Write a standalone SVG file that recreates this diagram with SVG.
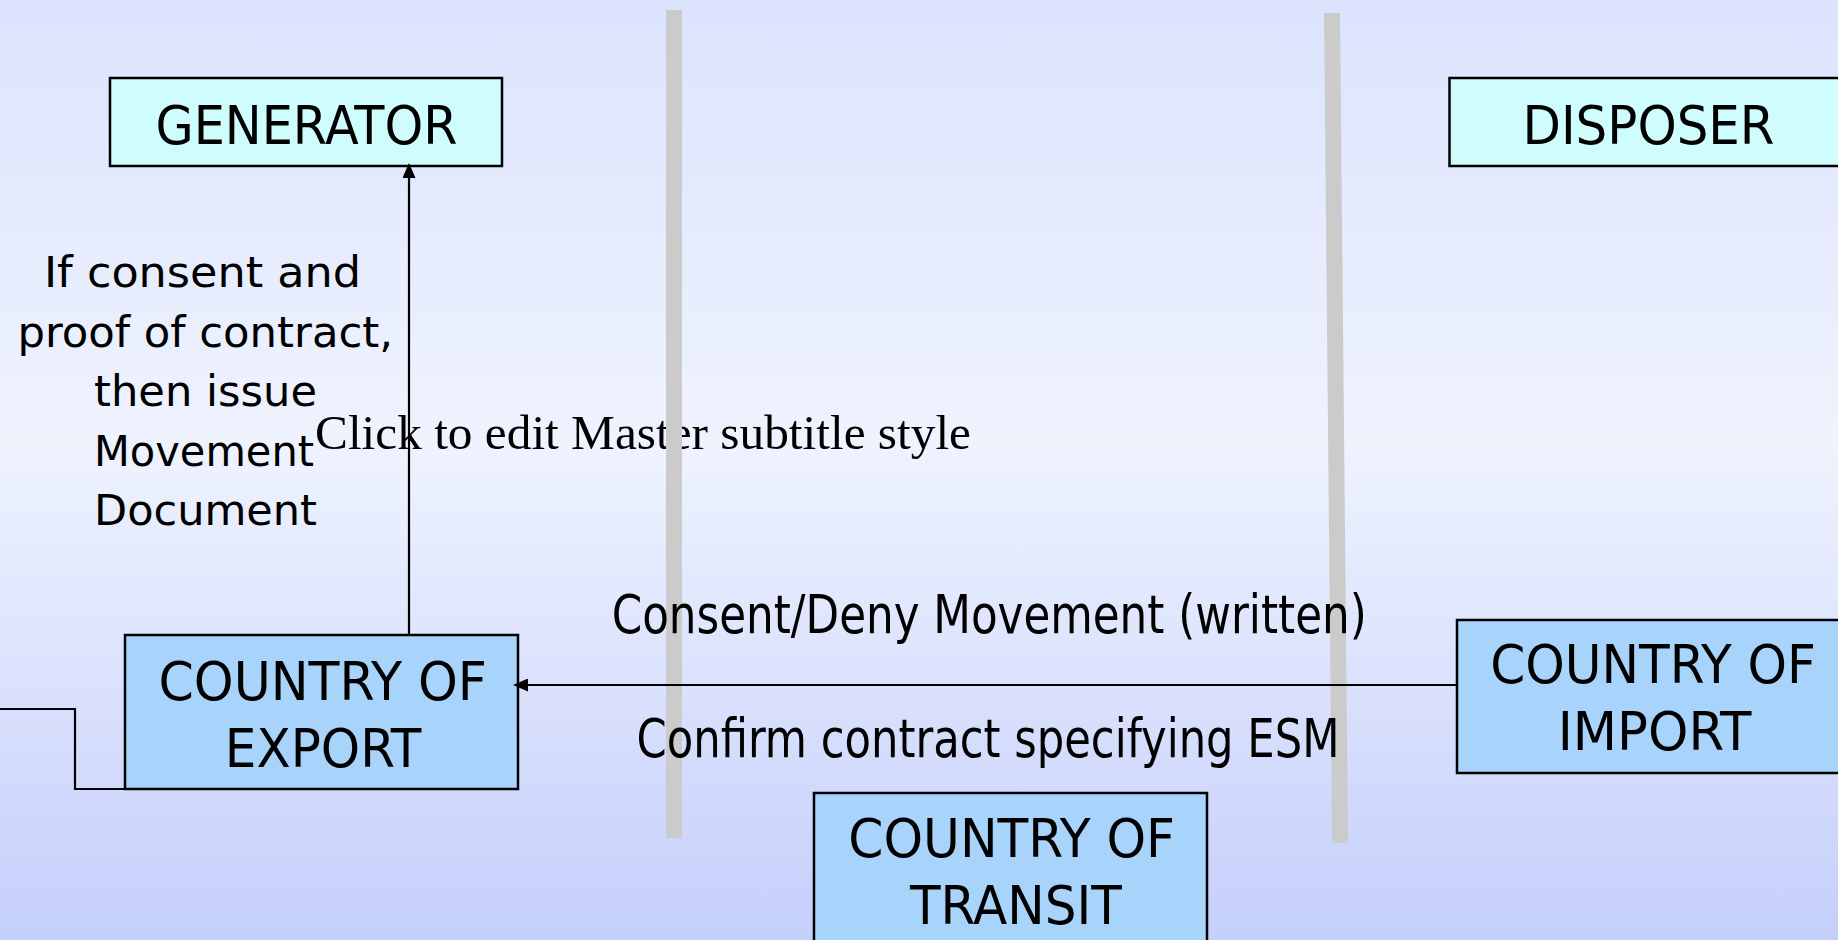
<svg xmlns="http://www.w3.org/2000/svg" width="1838" height="940" viewBox="0 0 1838 940">
  <defs>
    <linearGradient id="bg" x1="0" y1="0" x2="0" y2="1">
      <stop offset="0" stop-color="#dce3fd"/>
      <stop offset="0.47" stop-color="#eff3fe"/>
      <stop offset="1" stop-color="#c4cffb"/>
    </linearGradient>
    <marker id="arrow" viewBox="0 0 15 13" refX="1" refY="6.5" markerWidth="15" markerHeight="13" markerUnits="userSpaceOnUse" orient="auto">
      <path d="M15,6.5 L0,0 L0,13 Z" fill="#000"/>
    </marker>
  </defs>
  <style>
    .box { stroke: #000; stroke-width: 2.5; }
    .party { fill: #cffdfd; }
    .country { fill: #a8d4fc; }
    .lbl { font-family: "DejaVu Sans Condensed", "DejaVu Sans", sans-serif; font-size: 54px; fill: #000; }
    .note { font-family: "DejaVu Sans Condensed", "DejaVu Sans", sans-serif; font-size: 43px; fill: #000; }
    .ph { font-family: "Liberation Serif", "Times New Roman", serif; font-size: 49px; fill: #000; }
    .bar { fill: #cbcbcb; }
    .wire { fill: none; stroke: #000; stroke-width: 2.2; }
  </style>

  <rect width="1838" height="940" fill="url(#bg)"/>

  <!-- placeholder subtitle, sits beneath the border bars -->
  <text class="ph" x="315" y="449" textLength="656" lengthAdjust="spacingAndGlyphs">Click to edit Master subtitle style</text>

  <!-- national border bars -->
  <g id="borders">
    <rect class="bar" x="666" y="10" width="16" height="828"/>
    <polygon class="bar" points="1324,13 1340,13 1348,843 1332,843"/>
  </g>

  <g id="generator">
    <rect class="box party" x="110" y="78" width="392" height="88"/>
    <text class="lbl" x="155.5" y="144" textLength="302" lengthAdjust="spacingAndGlyphs">GENERATOR</text>
  </g>

  <g id="disposer">
    <rect class="box party" x="1449.5" y="78" width="400" height="88"/>
    <text class="lbl" x="1522.5" y="144" textLength="252" lengthAdjust="spacingAndGlyphs">DISPOSER</text>
  </g>

  <g id="note-movement-document">
    <text class="note" x="44" y="287" textLength="317" lengthAdjust="spacingAndGlyphs">If consent and</text>
    <text class="note" x="17.5" y="346.5" textLength="375.5" lengthAdjust="spacingAndGlyphs">proof of contract,</text>
    <text class="note" x="94" y="406" textLength="223" lengthAdjust="spacingAndGlyphs">then issue</text>
    <text class="note" x="94" y="465.5" textLength="220" lengthAdjust="spacingAndGlyphs">Movement</text>
    <text class="note" x="94" y="525" textLength="223" lengthAdjust="spacingAndGlyphs">Document</text>
  </g>

  <g id="country-of-export">
    <rect class="box country" x="125" y="635" width="393" height="154"/>
    <text class="lbl" x="158.5" y="700" textLength="328.5" lengthAdjust="spacingAndGlyphs">COUNTRY OF</text>
    <text class="lbl" x="224.8" y="766.7" textLength="196.6" lengthAdjust="spacingAndGlyphs">EXPORT</text>
  </g>

  <g id="country-of-import">
    <rect class="box country" x="1457" y="620" width="400" height="153"/>
    <text class="lbl" x="1490.2" y="683.3" textLength="325.7" lengthAdjust="spacingAndGlyphs">COUNTRY OF</text>
    <text class="lbl" x="1557.7" y="750" textLength="193.6" lengthAdjust="spacingAndGlyphs">IMPORT</text>
  </g>

  <g id="country-of-transit">
    <rect class="box country" x="814" y="793" width="393" height="170"/>
    <text class="lbl" x="848.3" y="857.3" textLength="326.7" lengthAdjust="spacingAndGlyphs">COUNTRY OF</text>
    <text class="lbl" x="910" y="924" textLength="211.7" lengthAdjust="spacingAndGlyphs">TRANSIT</text>
  </g>

  <g id="connectors">
    <line class="wire" x1="409" y1="635" x2="409" y2="177" marker-end="url(#arrow)"/>
    <line class="wire" x1="1457" y1="685" x2="527" y2="685" marker-end="url(#arrow)"/>
    <polyline class="wire" points="0,709 75,709 75,789 322,789"/>
  </g>

  <g id="message-labels">
    <text class="lbl" x="611.7" y="632.7" textLength="755" lengthAdjust="spacingAndGlyphs">Consent/Deny Movement (written)</text>
    <text class="lbl" x="636.5" y="756.7" textLength="703" lengthAdjust="spacingAndGlyphs">Confirm contract specifying ESM</text>
  </g>
</svg>
